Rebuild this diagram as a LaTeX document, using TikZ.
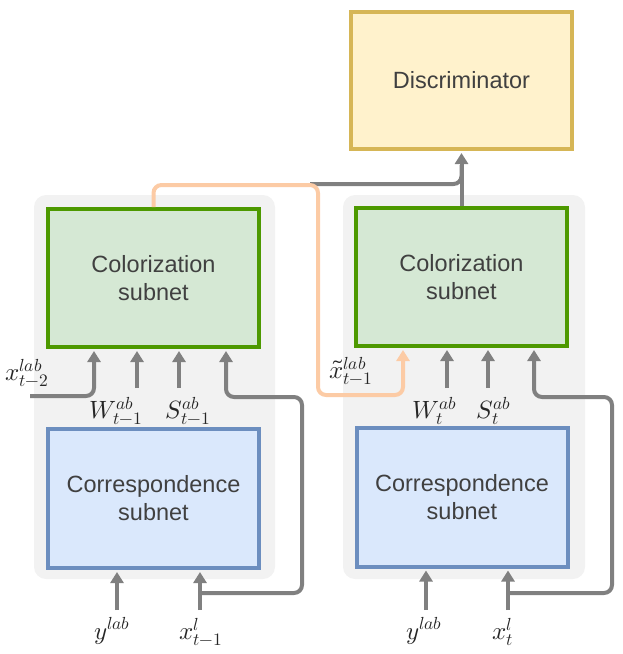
\documentclass[tikz,border=0pt]{standalone}
\usepackage{fontspec}
\usepackage{unicode-math}
\setmainfont{Liberation Sans}
\setmathfont{Latin Modern Math}
\usetikzlibrary{arrows.meta}
\definecolor{bggray}{HTML}{F2F2F2}
\definecolor{gstroke}{HTML}{4D9900}
\definecolor{gfill}{HTML}{D5E8D4}
\definecolor{bstroke}{HTML}{6C8EBF}
\definecolor{bfill}{HTML}{DAE8FC}
\definecolor{ystroke}{HTML}{D6B656}
\definecolor{yfill}{HTML}{FFF2CC}
\definecolor{arrgray}{HTML}{808080}
\definecolor{orangeline}{HTML}{FCCBA5}
\definecolor{txt}{HTML}{404040}
\tikzset{
  boxtext/.style={align=center, text=txt, font=\fontsize{23.5}{28}\selectfont, inner sep=0pt},
  colbox/.style={boxtext, draw=gstroke, fill=gfill, line width=4pt, minimum width=211pt, minimum height=138pt},
  corbox/.style={boxtext, draw=bstroke, fill=bfill, line width=4pt, minimum width=211pt, minimum height=139pt},
  discbox/.style={boxtext, draw=ystroke, fill=yfill, line width=4pt, minimum width=221pt, minimum height=137pt},
  groupbg/.style={fill=bggray, rounded corners=12pt},
  gline/.style={draw=arrgray, line width=4pt, rounded corners=8pt},
  garrow/.style={gline, -{Triangle[width=13pt,length=11pt]}, shorten >=2pt},
  oarrow/.style={draw=orangeline, line width=4pt, rounded corners=8pt, -{Triangle[width=13pt,length=11pt]}, shorten >=2pt},
  mlabel/.style={inner sep=0pt, text=black!85, font=\fontsize{25}{30}\selectfont},
}
\begin{document}
\begin{tikzpicture}[x=1pt,y=-1pt]
\useasboundingbox (0,0) rectangle (623,654);
% group backgrounds
\fill[groupbg] (34,195) rectangle (275,579);
\fill[groupbg] (343,195) rectangle (585,579);
% boxes
\node[discbox] (disc) at (461.5,80.5) {Discriminator};
\node[colbox] (lc) at (153.5,278) {Colorization\\subnet};
\node[colbox] (rc) at (461.5,277) {Colorization\\subnet};
\node[corbox] (lk) at (153.5,498.5) {Correspondence\\subnet};
\node[corbox] (rk) at (462,497) {Correspondence\\subnet};
% labels
\node[mlabel] (lxt2) at (27,373) {$x^{lab}_{t-2}$};
\node[mlabel] (lw) at (116,411) {$W^{ab}_{t-1}$};
\node[mlabel] (ls) at (188,411) {$S^{ab}_{t-1}$};
\node[mlabel] (ly) at (112,631) {$y^{lab}$};
\node[mlabel] (lx) at (201,632) {$x^{l}_{t-1}$};
\node[mlabel] (rxt) at (351,371) {$\tilde{x}^{lab}_{t-1}$};
\node[mlabel] (rw) at (435,411) {$W^{ab}_{t}$};
\node[mlabel] (rs) at (494,411) {$S^{ab}_{t}$};
\node[mlabel] (ry) at (424,631) {$y^{lab}$};
\node[mlabel] (rx) at (503,632) {$x^{l}_{t}$};
% coordinates
\coordinate (xs) at (30,396);
\coordinate (ax) at (94,0);
\coordinate (lwx) at (137,388);
\coordinate (lsx) at (179,388);
\coordinate (lyx) at (117,610);
\coordinate (lxx) at (200,610);
\coordinate (lb) at (200,593);
\coordinate (lf) at (302,397);
\coordinate (lfx) at (226,0);
\coordinate (rwx) at (447,388);
\coordinate (rsx) at (488,388);
\coordinate (ryx) at (426,610);
\coordinate (rxx) at (508,610);
\coordinate (rb) at (508,593);
\coordinate (rf) at (612,397);
\coordinate (rfx) at (534,0);
\coordinate (g0) at (310,184);
\coordinate (o1) at (318,185);
\coordinate (o2) at (403,395);
% left connectors
\draw[garrow] (xs) -| (ax |- lc.south);
\draw[garrow] (lwx) -- (lwx |- lc.south);
\draw[garrow] (lsx) -- (lsx |- lc.south);
\draw[garrow] (lyx) -- (lyx |- lk.south);
\draw[garrow] (lxx) -- (lxx |- lk.south);
\draw[garrow] (lb) -| (lf) -| (lfx |- lc.south);
% right connectors
\draw[garrow] (rwx) -- (rwx |- rc.south);
\draw[garrow] (rsx) -- (rsx |- rc.south);
\draw[garrow] (ryx) -- (ryx |- rk.south);
\draw[garrow] (rxx) -- (rxx |- rk.south);
\draw[garrow] (rb) -| (rf) -| (rfx |- rc.south);
% to discriminator
\draw[gline, shorten >=14pt] (g0) -| (disc.south);
\draw[garrow] (rc.north) -- (disc.south);
% orange feedback
\draw[oarrow] (lc.north) |- (o1) |- (o2) -- (o2 |- rc.south);
\end{tikzpicture}
\end{document}
